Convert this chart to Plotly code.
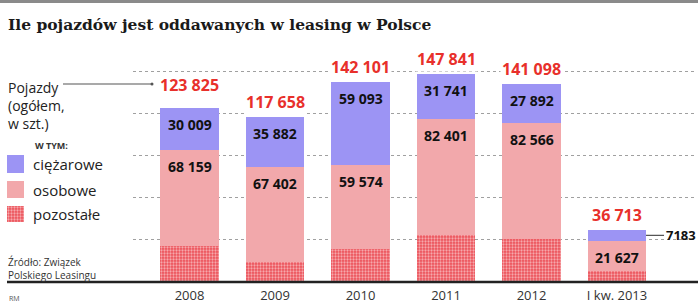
import plotly.graph_objects as go

# ---- data ----
years = ["2008", "2009", "2010", "2011", "2012", "I kw. 2013"]
totals = [123825, 117658, 142101, 147841, 141098, 36713]
ciezarowe = [30009, 35882, 59093, 31741, 27892, 7183]
osobowe = [68159, 67402, 59574, 82401, 82566, 21627]
pozostale = [t - c - o for t, c, o in zip(totals, ciezarowe, osobowe)]

W, H = 698, 308
C_PURPLE = "#9c94f4"
C_PINK = "#f2a8ab"
C_RED = "#e8302b"
C_PAT = "#ec5058"
FONT = "Open Sans"


def fx(px):
    return px / W


def fy(py):
    return (H - py) / H


def fmt(v):
    return f"{v:,}".replace(",", " ")


pattern = dict(shape=".", fgcolor="white", bgcolor=C_PAT, size=3, solidity=0.45)

fig = go.Figure()
fig.add_bar(x=years, y=pozostale, name="pozostałe",
            marker=dict(color=C_PAT, pattern=pattern, line=dict(width=0)))
fig.add_bar(x=years, y=osobowe, name="osobowe",
            marker=dict(color=C_PINK, line=dict(width=0)))
fig.add_bar(x=years, y=ciezarowe, name="ciężarowe",
            marker=dict(color=C_PURPLE, line=dict(width=0)))

# legend swatch with pattern (own tiny axes)
fig.add_bar(x=[0], y=[1], width=1, xaxis="x2", yaxis="y2",
            marker=dict(color=C_PAT, pattern=pattern, line=dict(width=0)))

annotations = []
seg_font = dict(family=FONT, size=14, color="#111", weight="bold")
# totals
for i, t in enumerate(totals):
    annotations.append(dict(x=i, y=t, text=fmt(t), showarrow=False,
                            yanchor="bottom", yshift=2 + (8 if i == 0 else 0),
                            bgcolor="white", borderpad=1,
                            font=dict(family=FONT, size=16, color=C_RED, weight="bold")))
# segment labels
for i, (p, o, c) in enumerate(zip(pozostale, osobowe, ciezarowe)):
    annotations.append(dict(x=i, y=p + o, text=fmt(o), showarrow=False,
                            yanchor="top", yshift=-5, font=seg_font))
    if c >= 15000:
        annotations.append(dict(x=i, y=p + o + c, text=fmt(c), showarrow=False,
                                yanchor="top", yshift=-5, font=seg_font))
    else:
        annotations.append(dict(x=i, y=p + o + c / 2, text=str(c), showarrow=True,
                                xshift=29, ax=18, ay=0, xanchor="left",
                                arrowhead=0, arrowwidth=1.2, arrowcolor="#555",
                                standoff=0,
                                font=dict(family=FONT, size=13, color="#111", weight="bold")))

# title
annotations.append(dict(xref="paper", yref="paper", x=fx(6), y=fy(24), xanchor="left",
                        yanchor="middle", showarrow=False,
                        text="Ile pojazdów jest oddawanych w leasing w Polsce",
                        font=dict(family="DejaVu Serif", size=15.5, color="#1a1a1a",
                                  weight="bold")))
# left legend texts
annotations.append(dict(xref="paper", yref="paper", x=fx(6), y=fy(76), xanchor="left",
                        yanchor="top", showarrow=False, align="left",
                        text="Pojazdy<br>(ogółem,<br>w szt.)",
                        font=dict(family=FONT, size=14, color="#222")))
annotations.append(dict(xref="paper", yref="paper", x=fx(33), y=fy(145), xanchor="left",
                        yanchor="middle", showarrow=False, text="W TYM:",
                        font=dict(family=FONT, size=9, color="#333", weight="bold")))
for label, py in [("ciężarowe", 164), ("osobowe", 189.5), ("pozostałe", 214)]:
    annotations.append(dict(xref="paper", yref="paper", x=fx(31), y=fy(py), xanchor="left",
                            yanchor="middle", showarrow=False, text=label,
                            font=dict(family=FONT, size=15, color="#222")))
annotations.append(dict(xref="paper", yref="paper", x=fx(6), y=fy(253), xanchor="left",
                        yanchor="top", showarrow=False, align="left",
                        text="Źródło: Związek<br>Polskiego Leasingu",
                        font=dict(family=FONT, size=10, color="#333")))
annotations.append(dict(xref="paper", yref="paper", x=fx(7), y=fy(298), xanchor="left",
                        yanchor="middle", showarrow=False, text="RM",
                        font=dict(family=FONT, size=7, color="#555")))

shapes = [
    # top border
    dict(type="line", xref="paper", yref="paper", x0=0, x1=1, y0=fy(1.5), y1=fy(1.5),
         line=dict(color="#8a8a8a", width=3)),
    # baseline
    dict(type="line", xref="paper", yref="paper", x0=fx(7), x1=1, y0=fy(282), y1=fy(282),
         line=dict(color="#222", width=2.5)),
    # pointer line
    dict(type="line", xref="paper", yref="paper", x0=fx(63), x1=fx(152), y0=fy(84), y1=fy(84),
         line=dict(color="#555", width=1.2)),
    dict(type="circle", xref="paper", yref="paper", x0=fx(150.5), x1=fx(153.5),
         y0=fy(82.5), y1=fy(85.5), fillcolor="#555", line=dict(width=0)),
    # legend swatches
    dict(type="rect", xref="paper", yref="paper", x0=fx(7), x1=fx(24), y0=fy(173), y1=fy(155),
         fillcolor=C_PURPLE, line=dict(width=0)),
    dict(type="rect", xref="paper", yref="paper", x0=fx(7), x1=fx(24), y0=fy(198), y1=fy(181),
         fillcolor=C_PINK, line=dict(width=0)),
]

fig.update_layout(
    width=W, height=H, margin=dict(l=0, r=0, t=0, b=0),
    paper_bgcolor="white", plot_bgcolor="white",
    barmode="stack", bargap=0.32, showlegend=False,
    font=dict(family=FONT),
    xaxis=dict(type="category", domain=[fx(133), fx(695)], range=[-0.661, 5.912],
               showgrid=False, showline=False, ticks="", automargin=False,
               tickfont=dict(family=FONT, size=13, color="#333"), ticklabelstandoff=4),
    yaxis=dict(domain=[fy(282), fy(60)], range=[0, 158000], dtick=30000, tick0=0,
               showgrid=True, gridcolor="#a0a0a0", griddash="dot", gridwidth=1,
               zeroline=False, showticklabels=False, automargin=False),
    xaxis2=dict(domain=[fx(7), fx(24)], range=[-0.5, 0.5], visible=False, anchor="y2"),
    yaxis2=dict(domain=[fy(222), fy(206)], range=[0, 1], visible=False, anchor="x2"),
    annotations=annotations,
    shapes=shapes,
)

fig.write_html("out.html")
